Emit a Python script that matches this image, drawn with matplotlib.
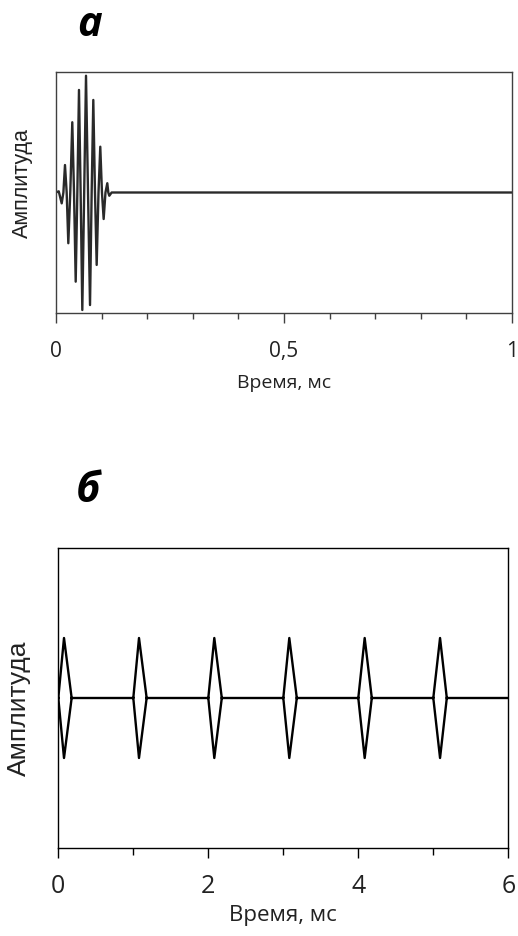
import numpy as np
import matplotlib.pyplot as plt
from matplotlib.ticker import MultipleLocator

plt.rcParams['font.family'] = ['Open Sans', 'DejaVu Sans']

# Panel a: single wave packet (time in ms, amplitude in relative units)
# extrema and zero crossings
wave_t = [0.0, 0.006, 0.0125, 0.0162, 0.0197, 0.0234, 0.0270, 0.0313, 0.0357,
          0.0395, 0.0432, 0.0468, 0.0504, 0.0540, 0.0577, 0.0618, 0.0658,
          0.0702, 0.0746, 0.0782, 0.0818, 0.0855, 0.0892, 0.0932, 0.0971,
          0.1008, 0.1045, 0.1085, 0.1125, 0.1147, 0.1169, 0.122, 1.0]
wave_a = [0.0, 0.01, -0.09, 0.0, 0.228, 0.0, -0.421, 0.0, 0.583,
          0.0, -0.740, 0.0, 0.851, 0.0, -0.975, 0.0, 0.969,
          0.0, -0.934, 0.0, 0.768, 0.0, -0.601, 0.0, 0.380,
          0.0, -0.220, 0.0, 0.077, 0.0, -0.027, 0.0, 0.0]

# Panel b: pulse train (start, peak, end in ms; peak amplitude)
pulse_start = [0.0, 1.0, 2.0, 3.0, 4.0, 5.0]
pulse_peak = [0.076, 1.076, 2.08, 3.08, 4.085, 5.09]
pulse_end = [0.178, 1.178, 2.18, 3.18, 4.18, 5.18]
pulse_amp = 0.4
train_end = 6.0

W, H = 518, 936
fig = plt.figure(figsize=(W / 100, H / 100), dpi=100)
ylab_font = ['Liberation Sans', 'DejaVu Sans']

# ---- panel a ----
ax1 = fig.add_axes([56 / W, 1 - 313 / H, 456 / W, 241 / H])
ax1.plot(wave_t, wave_a, color='#2a2a2a', lw=1.7)
ax1.set_xlim(0, 1)
ax1.set_ylim(-1, 1)
ax1.xaxis.set_minor_locator(MultipleLocator(0.1))
ax1.set_xticks([0, 0.5, 1])
ax1.set_xticklabels(['0', '0,5', '1'])
ax1.set_yticks([])
ax1.tick_params(axis='x', which='major', direction='out', length=7, width=1,
                color='#404040', labelsize=15, pad=13, labelcolor='#222222')
ax1.tick_params(axis='x', which='minor', direction='out', length=4.5, width=1,
                color='#404040')
for s in ax1.spines.values():
    s.set_color('#404040')
    s.set_linewidth(1)
ax1.set_xlabel('Время, мс', fontsize=14, color='#222222', va='center')
ax1.xaxis.set_label_coords(0.5, -(383 - 313) / 241)
ax1.set_ylabel('Амплитуда', fontsize=15.5, color='#222222',
               family=ylab_font, va='center')
ax1.yaxis.set_label_coords(-(56 - 22) / 456, (313 - 183) / 241)
fig.text(90 / W, 1 - 26 / H, 'а', fontsize=30, fontweight='bold',
         fontstyle='italic', ha='center', va='center')

# ---- panel b ----
xs, ys = [], []
prev = 0.0
for s0, pk, e0 in zip(pulse_start, pulse_peak, pulse_end):
    # baseline up to pulse, then diamond outline
    xs += [prev, s0, pk, e0, pk, s0, np.nan]
    ys += [0, 0, pulse_amp, 0, -pulse_amp, 0, np.nan]
    prev = e0
xs += [prev, train_end]
ys += [0, 0]

ax2 = fig.add_axes([58.3 / W, 1 - 848 / H, 450 / W, 300 / H])
ax2.plot(xs, ys, color='black', lw=1.7)
ax2.set_xlim(0, 6)
ax2.set_ylim(-1, 1)
ax2.xaxis.set_major_locator(MultipleLocator(2))
ax2.xaxis.set_minor_locator(MultipleLocator(1))
ax2.set_yticks([])
ax2.tick_params(axis='x', which='major', direction='out', length=7, width=1,
                labelsize=18, pad=12, labelcolor='#222222')
ax2.tick_params(axis='x', which='minor', direction='out', length=5, width=1)
for s in ax2.spines.values():
    s.set_linewidth(1)
ax2.set_xlabel('Время, мс', fontsize=16, color='#222222', va='center')
ax2.xaxis.set_label_coords(0.5, -(916 - 848) / 300)
ax2.set_ylabel('Амплитуда', fontsize=19, color='#222222',
               family=ylab_font, va='center')
ax2.yaxis.set_label_coords(-(58.3 - 19) / 450, (848 - 708) / 300)
fig.text(88 / W, 1 - 492 / H, 'б', fontsize=30, fontweight='bold',
         fontstyle='italic', ha='center', va='center')

fig.savefig('out.png', dpi=100)
